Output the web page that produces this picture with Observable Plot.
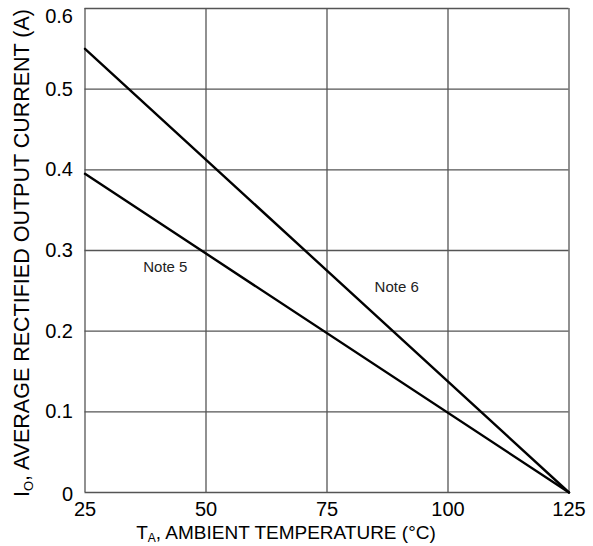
<!DOCTYPE html>
<html><head><meta charset="utf-8">
<script src="https://cdn.jsdelivr.net/npm/d3@7"></script>
<script src="https://cdn.jsdelivr.net/npm/@observablehq/plot@0.6"></script>
<style>
html,body{margin:0;padding:0;background:#fff;}
svg{font-family:"Liberation Sans",Arial,sans-serif;}
</style>
</head><body><div id="chart"></div>
<script>
const temps = [25, 125];
const note6 = [0.55, 0];
const note5 = [0.395, 0];
const xTicks = [25, 50, 75, 100, 125];
const yTicks = [0, 0.1, 0.2, 0.3, 0.4, 0.5, 0.6];
const noteLabels = ["Note 5", "Note 6"];
const noteX = [41.6, 89.4];
const noteY = [0.279, 0.254];

const lines = [
  ...temps.map((t, i) => ({series: "Note 6", t, v: note6[i]})),
  ...temps.map((t, i) => ({series: "Note 5", t, v: note5[i]}))
];
const labels = noteLabels.map((s, i) => ({s, x: noteX[i], y: noteY[i]}));
const fmtY = d => d === 0 ? "0" : d3.format(".1f")(d);
const yMid = yTicks.slice(1, -1);
const yTop = yTicks.slice(-1);
const yBot = yTicks.slice(0, 1);

const W = 593, H = 546;
const chart = Plot.plot({
  width: W, height: H,
  marginLeft: 84.5, marginRight: 24.5, marginTop: 8, marginBottom: 54,
  style: {fontFamily: '"Liberation Sans", Arial, sans-serif', background: "#fff"},
  x: {domain: [25, 125], label: null},
  y: {domain: [0, 0.6], label: null},
  marks: [
    Plot.ruleX(xTicks, {stroke: "#555", strokeWidth: 1.3}),
    Plot.ruleY(yTicks, {stroke: "#555", strokeWidth: 1.3}),
    Plot.axisX({ticks: xTicks, tickSize: 0, tickPadding: 9, fontSize: 20, fill: "#000", label: null}),
    Plot.axisY({ticks: yMid, tickSize: 0, tickPadding: 12, fontSize: 20, fill: "#000", label: null, tickFormat: fmtY}),
    Plot.axisY({ticks: yTop, tickSize: 0, tickPadding: 12, fontSize: 20, fill: "#000", label: null, tickFormat: fmtY, dy: 8}),
    Plot.axisY({ticks: yBot, tickSize: 0, tickPadding: 12, fontSize: 20, fill: "#000", label: null, tickFormat: fmtY, dy: 2}),
    Plot.line(lines, {x: "t", y: "v", z: "series", stroke: "#000", strokeWidth: 2.4}),
    Plot.text(labels, {x: "x", y: "y", text: "s", fontSize: 15, fill: "#222"})
  ]
});
document.getElementById("chart").appendChild(chart);

const svg = d3.select(chart);
const xl = svg.append("text")
  .attr("x", 286).attr("y", 539)
  .attr("text-anchor", "middle")
  .attr("font-size", 19).attr("fill", "#000");
xl.append("tspan").text("T");
xl.append("tspan").attr("font-size", 12).attr("dy", 3).text("A");
xl.append("tspan").attr("dy", -3).text(", AMBIENT TEMPERATURE (°C)");
const yl = svg.append("text")
  .attr("transform", "translate(29,253) rotate(-90)")
  .attr("text-anchor", "middle")
  .attr("font-size", 21.5).attr("fill", "#000");
yl.append("tspan").text("I");
yl.append("tspan").attr("font-size", 13).attr("dy", 4).text("O");
yl.append("tspan").attr("dy", -4).text(", AVERAGE RECTIFIED OUTPUT CURRENT (A)");
</script></body></html>
